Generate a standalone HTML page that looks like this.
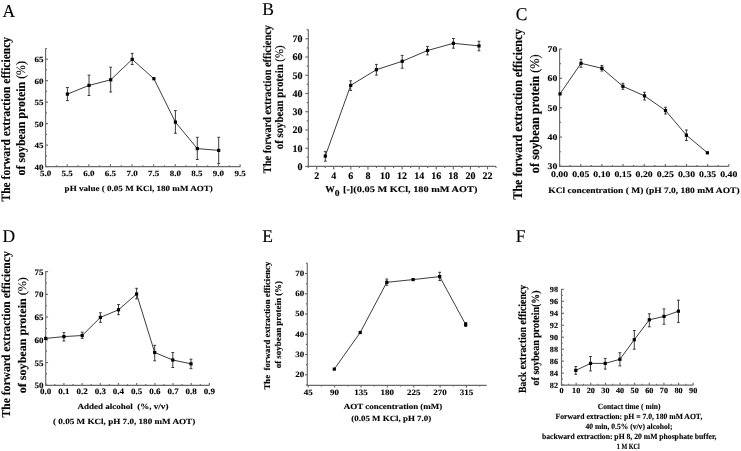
<!DOCTYPE html>
<html><head><meta charset="utf-8"><style>
html,body{margin:0;padding:0;background:#fff;width:741px;height:451px;overflow:hidden}
svg{display:block;filter:grayscale(1) blur(0.3px)}
text{font-family:"Liberation Serif",serif;font-weight:bold;fill:#000;stroke:#000;stroke-width:0.12px;text-rendering:geometricPrecision}
</style></head><body>
<svg width="741" height="451" viewBox="0 0 741 451">
<rect width="741" height="451" fill="#fff"/>
<line x1="45.6" y1="48.3" x2="45.6" y2="167.05" stroke="#6a6a6a" stroke-width="1.15"/>
<line x1="45.15" y1="166.6" x2="240.6" y2="166.6" stroke="#6a6a6a" stroke-width="1.15"/>
<line x1="45.6" y1="166.6" x2="48" y2="166.6" stroke="#6a6a6a" stroke-width="1.15"/>
<line x1="45.6" y1="145.12" x2="48" y2="145.12" stroke="#6a6a6a" stroke-width="1.15"/>
<line x1="45.6" y1="123.64" x2="48" y2="123.64" stroke="#6a6a6a" stroke-width="1.15"/>
<line x1="45.6" y1="102.16" x2="48" y2="102.16" stroke="#6a6a6a" stroke-width="1.15"/>
<line x1="45.6" y1="80.68" x2="48" y2="80.68" stroke="#6a6a6a" stroke-width="1.15"/>
<line x1="45.6" y1="59.2" x2="48" y2="59.2" stroke="#6a6a6a" stroke-width="1.15"/>
<line x1="45.6" y1="155.86" x2="46.9" y2="155.86" stroke="#6a6a6a" stroke-width="1.15"/>
<line x1="45.6" y1="134.38" x2="46.9" y2="134.38" stroke="#6a6a6a" stroke-width="1.15"/>
<line x1="45.6" y1="112.9" x2="46.9" y2="112.9" stroke="#6a6a6a" stroke-width="1.15"/>
<line x1="45.6" y1="91.42" x2="46.9" y2="91.42" stroke="#6a6a6a" stroke-width="1.15"/>
<line x1="45.6" y1="69.94" x2="46.9" y2="69.94" stroke="#6a6a6a" stroke-width="1.15"/>
<line x1="45.6" y1="48.46" x2="46.9" y2="48.46" stroke="#6a6a6a" stroke-width="1.15"/>
<line x1="45.6" y1="166.6" x2="45.6" y2="164.2" stroke="#6a6a6a" stroke-width="1.15"/>
<line x1="67.21" y1="166.6" x2="67.21" y2="164.2" stroke="#6a6a6a" stroke-width="1.15"/>
<line x1="88.82" y1="166.6" x2="88.82" y2="164.2" stroke="#6a6a6a" stroke-width="1.15"/>
<line x1="110.43" y1="166.6" x2="110.43" y2="164.2" stroke="#6a6a6a" stroke-width="1.15"/>
<line x1="132.04" y1="166.6" x2="132.04" y2="164.2" stroke="#6a6a6a" stroke-width="1.15"/>
<line x1="153.65" y1="166.6" x2="153.65" y2="164.2" stroke="#6a6a6a" stroke-width="1.15"/>
<line x1="175.26" y1="166.6" x2="175.26" y2="164.2" stroke="#6a6a6a" stroke-width="1.15"/>
<line x1="196.87" y1="166.6" x2="196.87" y2="164.2" stroke="#6a6a6a" stroke-width="1.15"/>
<line x1="218.48" y1="166.6" x2="218.48" y2="164.2" stroke="#6a6a6a" stroke-width="1.15"/>
<line x1="240.09" y1="166.6" x2="240.09" y2="164.2" stroke="#6a6a6a" stroke-width="1.15"/>
<line x1="56.41" y1="166.6" x2="56.41" y2="165.3" stroke="#6a6a6a" stroke-width="1.15"/>
<line x1="78.02" y1="166.6" x2="78.02" y2="165.3" stroke="#6a6a6a" stroke-width="1.15"/>
<line x1="99.62" y1="166.6" x2="99.62" y2="165.3" stroke="#6a6a6a" stroke-width="1.15"/>
<line x1="121.23" y1="166.6" x2="121.23" y2="165.3" stroke="#6a6a6a" stroke-width="1.15"/>
<line x1="142.84" y1="166.6" x2="142.84" y2="165.3" stroke="#6a6a6a" stroke-width="1.15"/>
<line x1="164.45" y1="166.6" x2="164.45" y2="165.3" stroke="#6a6a6a" stroke-width="1.15"/>
<line x1="186.06" y1="166.6" x2="186.06" y2="165.3" stroke="#6a6a6a" stroke-width="1.15"/>
<line x1="207.67" y1="166.6" x2="207.67" y2="165.3" stroke="#6a6a6a" stroke-width="1.15"/>
<line x1="229.28" y1="166.6" x2="229.28" y2="165.3" stroke="#6a6a6a" stroke-width="1.15"/>
<text transform="translate(43.4,169.5) scale(1,0.89)" font-size="9" text-anchor="end" xml:space="preserve">40</text>
<text transform="translate(43.4,148.02) scale(1,0.89)" font-size="9" text-anchor="end" xml:space="preserve">45</text>
<text transform="translate(43.4,126.54) scale(1,0.89)" font-size="9" text-anchor="end" xml:space="preserve">50</text>
<text transform="translate(43.4,105.06) scale(1,0.89)" font-size="9" text-anchor="end" xml:space="preserve">55</text>
<text transform="translate(43.4,83.58) scale(1,0.89)" font-size="9" text-anchor="end" xml:space="preserve">60</text>
<text transform="translate(43.4,62.1) scale(1,0.89)" font-size="9" text-anchor="end" xml:space="preserve">65</text>
<text transform="translate(45.6,176.2) scale(1,0.89)" font-size="9" text-anchor="middle" xml:space="preserve">5.0</text>
<text transform="translate(67.21,176.2) scale(1,0.89)" font-size="9" text-anchor="middle" xml:space="preserve">5.5</text>
<text transform="translate(88.82,176.2) scale(1,0.89)" font-size="9" text-anchor="middle" xml:space="preserve">6.0</text>
<text transform="translate(110.43,176.2) scale(1,0.89)" font-size="9" text-anchor="middle" xml:space="preserve">6.5</text>
<text transform="translate(132.04,176.2) scale(1,0.89)" font-size="9" text-anchor="middle" xml:space="preserve">7.0</text>
<text transform="translate(153.65,176.2) scale(1,0.89)" font-size="9" text-anchor="middle" xml:space="preserve">7.5</text>
<text transform="translate(175.26,176.2) scale(1,0.89)" font-size="9" text-anchor="middle" xml:space="preserve">8.0</text>
<text transform="translate(196.87,176.2) scale(1,0.89)" font-size="9" text-anchor="middle" xml:space="preserve">8.5</text>
<text transform="translate(218.48,176.2) scale(1,0.89)" font-size="9" text-anchor="middle" xml:space="preserve">9.0</text>
<text transform="translate(240.09,176.2) scale(1,0.89)" font-size="9" text-anchor="middle" xml:space="preserve">9.5</text>
<polyline points="67.4,94.1 89,85.4 110.7,79.8 132.2,59.4 153.9,78.7 175.4,122.1 197.3,148.6 218.7,150.4" fill="none" stroke="#333" stroke-width="0.95"/>
<line x1="67.4" y1="87.5" x2="67.4" y2="100.6" stroke="#333" stroke-width="0.95"/>
<line x1="66" y1="87.5" x2="68.8" y2="87.5" stroke="#333" stroke-width="0.95"/>
<line x1="66" y1="100.6" x2="68.8" y2="100.6" stroke="#333" stroke-width="0.95"/>
<rect x="65.8" y="92.5" width="3.2" height="3.2" fill="#000"/>
<line x1="89" y1="75.1" x2="89" y2="95.5" stroke="#333" stroke-width="0.95"/>
<line x1="87.6" y1="75.1" x2="90.4" y2="75.1" stroke="#333" stroke-width="0.95"/>
<line x1="87.6" y1="95.5" x2="90.4" y2="95.5" stroke="#333" stroke-width="0.95"/>
<rect x="87.4" y="83.8" width="3.2" height="3.2" fill="#000"/>
<line x1="110.7" y1="67.2" x2="110.7" y2="92" stroke="#333" stroke-width="0.95"/>
<line x1="109.3" y1="67.2" x2="112.1" y2="67.2" stroke="#333" stroke-width="0.95"/>
<line x1="109.3" y1="92" x2="112.1" y2="92" stroke="#333" stroke-width="0.95"/>
<rect x="109.1" y="78.2" width="3.2" height="3.2" fill="#000"/>
<line x1="132.2" y1="53.4" x2="132.2" y2="64.5" stroke="#333" stroke-width="0.95"/>
<line x1="130.8" y1="53.4" x2="133.6" y2="53.4" stroke="#333" stroke-width="0.95"/>
<line x1="130.8" y1="64.5" x2="133.6" y2="64.5" stroke="#333" stroke-width="0.95"/>
<rect x="130.6" y="57.8" width="3.2" height="3.2" fill="#000"/>
<rect x="152.3" y="77.1" width="3.2" height="3.2" fill="#000"/>
<line x1="175.4" y1="110.6" x2="175.4" y2="133.3" stroke="#333" stroke-width="0.95"/>
<line x1="174" y1="110.6" x2="176.8" y2="110.6" stroke="#333" stroke-width="0.95"/>
<line x1="174" y1="133.3" x2="176.8" y2="133.3" stroke="#333" stroke-width="0.95"/>
<rect x="173.8" y="120.5" width="3.2" height="3.2" fill="#000"/>
<line x1="197.3" y1="137.3" x2="197.3" y2="159.5" stroke="#333" stroke-width="0.95"/>
<line x1="195.9" y1="137.3" x2="198.7" y2="137.3" stroke="#333" stroke-width="0.95"/>
<line x1="195.9" y1="159.5" x2="198.7" y2="159.5" stroke="#333" stroke-width="0.95"/>
<rect x="195.7" y="147" width="3.2" height="3.2" fill="#000"/>
<line x1="218.7" y1="137.3" x2="218.7" y2="163.4" stroke="#333" stroke-width="0.95"/>
<line x1="217.3" y1="137.3" x2="220.1" y2="137.3" stroke="#333" stroke-width="0.95"/>
<line x1="217.3" y1="163.4" x2="220.1" y2="163.4" stroke="#333" stroke-width="0.95"/>
<rect x="217.1" y="148.8" width="3.2" height="3.2" fill="#000"/>
<line x1="308.3" y1="29.5" x2="308.3" y2="166.85" stroke="#6a6a6a" stroke-width="1.15"/>
<line x1="307.85" y1="166.4" x2="496" y2="166.4" stroke="#6a6a6a" stroke-width="1.15"/>
<line x1="308.3" y1="166.4" x2="305.3" y2="166.4" stroke="#6a6a6a" stroke-width="1.15"/>
<line x1="308.3" y1="148.17" x2="305.3" y2="148.17" stroke="#6a6a6a" stroke-width="1.15"/>
<line x1="308.3" y1="129.94" x2="305.3" y2="129.94" stroke="#6a6a6a" stroke-width="1.15"/>
<line x1="308.3" y1="111.71" x2="305.3" y2="111.71" stroke="#6a6a6a" stroke-width="1.15"/>
<line x1="308.3" y1="93.48" x2="305.3" y2="93.48" stroke="#6a6a6a" stroke-width="1.15"/>
<line x1="308.3" y1="75.25" x2="305.3" y2="75.25" stroke="#6a6a6a" stroke-width="1.15"/>
<line x1="308.3" y1="57.02" x2="305.3" y2="57.02" stroke="#6a6a6a" stroke-width="1.15"/>
<line x1="308.3" y1="38.79" x2="305.3" y2="38.79" stroke="#6a6a6a" stroke-width="1.15"/>
<line x1="308.3" y1="157.28" x2="306.7" y2="157.28" stroke="#6a6a6a" stroke-width="1.15"/>
<line x1="308.3" y1="139.06" x2="306.7" y2="139.06" stroke="#6a6a6a" stroke-width="1.15"/>
<line x1="308.3" y1="120.83" x2="306.7" y2="120.83" stroke="#6a6a6a" stroke-width="1.15"/>
<line x1="308.3" y1="102.59" x2="306.7" y2="102.59" stroke="#6a6a6a" stroke-width="1.15"/>
<line x1="308.3" y1="84.37" x2="306.7" y2="84.37" stroke="#6a6a6a" stroke-width="1.15"/>
<line x1="308.3" y1="66.14" x2="306.7" y2="66.14" stroke="#6a6a6a" stroke-width="1.15"/>
<line x1="308.3" y1="47.91" x2="306.7" y2="47.91" stroke="#6a6a6a" stroke-width="1.15"/>
<line x1="308.3" y1="29.68" x2="306.7" y2="29.68" stroke="#6a6a6a" stroke-width="1.15"/>
<line x1="316.7" y1="166.4" x2="316.7" y2="169.4" stroke="#6a6a6a" stroke-width="1.15"/>
<line x1="333.78" y1="166.4" x2="333.78" y2="169.4" stroke="#6a6a6a" stroke-width="1.15"/>
<line x1="350.86" y1="166.4" x2="350.86" y2="169.4" stroke="#6a6a6a" stroke-width="1.15"/>
<line x1="367.94" y1="166.4" x2="367.94" y2="169.4" stroke="#6a6a6a" stroke-width="1.15"/>
<line x1="385.02" y1="166.4" x2="385.02" y2="169.4" stroke="#6a6a6a" stroke-width="1.15"/>
<line x1="402.1" y1="166.4" x2="402.1" y2="169.4" stroke="#6a6a6a" stroke-width="1.15"/>
<line x1="419.18" y1="166.4" x2="419.18" y2="169.4" stroke="#6a6a6a" stroke-width="1.15"/>
<line x1="436.26" y1="166.4" x2="436.26" y2="169.4" stroke="#6a6a6a" stroke-width="1.15"/>
<line x1="453.34" y1="166.4" x2="453.34" y2="169.4" stroke="#6a6a6a" stroke-width="1.15"/>
<line x1="470.42" y1="166.4" x2="470.42" y2="169.4" stroke="#6a6a6a" stroke-width="1.15"/>
<line x1="487.5" y1="166.4" x2="487.5" y2="169.4" stroke="#6a6a6a" stroke-width="1.15"/>
<line x1="308.16" y1="166.4" x2="308.16" y2="168" stroke="#6a6a6a" stroke-width="1.15"/>
<line x1="325.24" y1="166.4" x2="325.24" y2="168" stroke="#6a6a6a" stroke-width="1.15"/>
<line x1="342.32" y1="166.4" x2="342.32" y2="168" stroke="#6a6a6a" stroke-width="1.15"/>
<line x1="359.4" y1="166.4" x2="359.4" y2="168" stroke="#6a6a6a" stroke-width="1.15"/>
<line x1="376.48" y1="166.4" x2="376.48" y2="168" stroke="#6a6a6a" stroke-width="1.15"/>
<line x1="393.56" y1="166.4" x2="393.56" y2="168" stroke="#6a6a6a" stroke-width="1.15"/>
<line x1="410.64" y1="166.4" x2="410.64" y2="168" stroke="#6a6a6a" stroke-width="1.15"/>
<line x1="427.72" y1="166.4" x2="427.72" y2="168" stroke="#6a6a6a" stroke-width="1.15"/>
<line x1="444.8" y1="166.4" x2="444.8" y2="168" stroke="#6a6a6a" stroke-width="1.15"/>
<line x1="461.88" y1="166.4" x2="461.88" y2="168" stroke="#6a6a6a" stroke-width="1.15"/>
<line x1="478.96" y1="166.4" x2="478.96" y2="168" stroke="#6a6a6a" stroke-width="1.15"/>
<line x1="496.04" y1="166.4" x2="496.04" y2="168" stroke="#6a6a6a" stroke-width="1.15"/>
<text x="302.4" y="169.8" font-size="10" text-anchor="end" xml:space="preserve">0</text>
<text x="302.4" y="151.57" font-size="10" text-anchor="end" xml:space="preserve">10</text>
<text x="302.4" y="133.34" font-size="10" text-anchor="end" xml:space="preserve">20</text>
<text x="302.4" y="115.11" font-size="10" text-anchor="end" xml:space="preserve">30</text>
<text x="302.4" y="96.88" font-size="10" text-anchor="end" xml:space="preserve">40</text>
<text x="302.4" y="78.65" font-size="10" text-anchor="end" xml:space="preserve">50</text>
<text x="302.4" y="60.42" font-size="10" text-anchor="end" xml:space="preserve">60</text>
<text x="302.4" y="42.19" font-size="10" text-anchor="end" xml:space="preserve">70</text>
<text x="316.7" y="178.8" font-size="10" text-anchor="middle" xml:space="preserve">2</text>
<text x="333.78" y="178.8" font-size="10" text-anchor="middle" xml:space="preserve">4</text>
<text x="350.86" y="178.8" font-size="10" text-anchor="middle" xml:space="preserve">6</text>
<text x="367.94" y="178.8" font-size="10" text-anchor="middle" xml:space="preserve">8</text>
<text x="385.02" y="178.8" font-size="10" text-anchor="middle" xml:space="preserve">10</text>
<text x="402.1" y="178.8" font-size="10" text-anchor="middle" xml:space="preserve">12</text>
<text x="419.18" y="178.8" font-size="10" text-anchor="middle" xml:space="preserve">14</text>
<text x="436.26" y="178.8" font-size="10" text-anchor="middle" xml:space="preserve">16</text>
<text x="453.34" y="178.8" font-size="10" text-anchor="middle" xml:space="preserve">18</text>
<text x="470.42" y="178.8" font-size="10" text-anchor="middle" xml:space="preserve">20</text>
<text x="487.5" y="178.8" font-size="10" text-anchor="middle" xml:space="preserve">22</text>
<polyline points="325.3,156.1 350.7,85.4 376.4,69.7 402.2,61.3 427.5,50.5 453.4,43.3 479,45.9" fill="none" stroke="#333" stroke-width="0.95"/>
<line x1="325.3" y1="151.4" x2="325.3" y2="161.2" stroke="#333" stroke-width="0.95"/>
<line x1="323.9" y1="151.4" x2="326.7" y2="151.4" stroke="#333" stroke-width="0.95"/>
<line x1="323.9" y1="161.2" x2="326.7" y2="161.2" stroke="#333" stroke-width="0.95"/>
<rect x="323.7" y="154.5" width="3.2" height="3.2" fill="#000"/>
<line x1="350.7" y1="80.8" x2="350.7" y2="90.5" stroke="#333" stroke-width="0.95"/>
<line x1="349.3" y1="80.8" x2="352.1" y2="80.8" stroke="#333" stroke-width="0.95"/>
<line x1="349.3" y1="90.5" x2="352.1" y2="90.5" stroke="#333" stroke-width="0.95"/>
<rect x="349.1" y="83.8" width="3.2" height="3.2" fill="#000"/>
<line x1="376.4" y1="64.4" x2="376.4" y2="75.1" stroke="#333" stroke-width="0.95"/>
<line x1="375" y1="64.4" x2="377.8" y2="64.4" stroke="#333" stroke-width="0.95"/>
<line x1="375" y1="75.1" x2="377.8" y2="75.1" stroke="#333" stroke-width="0.95"/>
<rect x="374.8" y="68.1" width="3.2" height="3.2" fill="#000"/>
<line x1="402.2" y1="55.4" x2="402.2" y2="68.2" stroke="#333" stroke-width="0.95"/>
<line x1="400.8" y1="55.4" x2="403.6" y2="55.4" stroke="#333" stroke-width="0.95"/>
<line x1="400.8" y1="68.2" x2="403.6" y2="68.2" stroke="#333" stroke-width="0.95"/>
<rect x="400.6" y="59.7" width="3.2" height="3.2" fill="#000"/>
<line x1="427.5" y1="46.4" x2="427.5" y2="54.9" stroke="#333" stroke-width="0.95"/>
<line x1="426.1" y1="46.4" x2="428.9" y2="46.4" stroke="#333" stroke-width="0.95"/>
<line x1="426.1" y1="54.9" x2="428.9" y2="54.9" stroke="#333" stroke-width="0.95"/>
<rect x="425.9" y="48.9" width="3.2" height="3.2" fill="#000"/>
<line x1="453.4" y1="38.5" x2="453.4" y2="48.2" stroke="#333" stroke-width="0.95"/>
<line x1="452" y1="38.5" x2="454.8" y2="38.5" stroke="#333" stroke-width="0.95"/>
<line x1="452" y1="48.2" x2="454.8" y2="48.2" stroke="#333" stroke-width="0.95"/>
<rect x="451.8" y="41.7" width="3.2" height="3.2" fill="#000"/>
<line x1="479" y1="41.3" x2="479" y2="50.8" stroke="#333" stroke-width="0.95"/>
<line x1="477.6" y1="41.3" x2="480.4" y2="41.3" stroke="#333" stroke-width="0.95"/>
<line x1="477.6" y1="50.8" x2="480.4" y2="50.8" stroke="#333" stroke-width="0.95"/>
<rect x="477.4" y="44.3" width="3.2" height="3.2" fill="#000"/>
<line x1="559.6" y1="48.7" x2="559.6" y2="166.85" stroke="#6a6a6a" stroke-width="1.15"/>
<line x1="559.15" y1="166.4" x2="728.8" y2="166.4" stroke="#6a6a6a" stroke-width="1.15"/>
<line x1="559.6" y1="166.4" x2="562" y2="166.4" stroke="#6a6a6a" stroke-width="1.15"/>
<line x1="559.6" y1="137.05" x2="562" y2="137.05" stroke="#6a6a6a" stroke-width="1.15"/>
<line x1="559.6" y1="107.7" x2="562" y2="107.7" stroke="#6a6a6a" stroke-width="1.15"/>
<line x1="559.6" y1="78.35" x2="562" y2="78.35" stroke="#6a6a6a" stroke-width="1.15"/>
<line x1="559.6" y1="49" x2="562" y2="49" stroke="#6a6a6a" stroke-width="1.15"/>
<line x1="559.6" y1="151.72" x2="560.9" y2="151.72" stroke="#6a6a6a" stroke-width="1.15"/>
<line x1="559.6" y1="122.38" x2="560.9" y2="122.38" stroke="#6a6a6a" stroke-width="1.15"/>
<line x1="559.6" y1="93.03" x2="560.9" y2="93.03" stroke="#6a6a6a" stroke-width="1.15"/>
<line x1="559.6" y1="63.67" x2="560.9" y2="63.67" stroke="#6a6a6a" stroke-width="1.15"/>
<line x1="559.6" y1="166.4" x2="559.6" y2="164" stroke="#6a6a6a" stroke-width="1.15"/>
<line x1="580.75" y1="166.4" x2="580.75" y2="164" stroke="#6a6a6a" stroke-width="1.15"/>
<line x1="601.9" y1="166.4" x2="601.9" y2="164" stroke="#6a6a6a" stroke-width="1.15"/>
<line x1="623.05" y1="166.4" x2="623.05" y2="164" stroke="#6a6a6a" stroke-width="1.15"/>
<line x1="644.2" y1="166.4" x2="644.2" y2="164" stroke="#6a6a6a" stroke-width="1.15"/>
<line x1="665.35" y1="166.4" x2="665.35" y2="164" stroke="#6a6a6a" stroke-width="1.15"/>
<line x1="686.5" y1="166.4" x2="686.5" y2="164" stroke="#6a6a6a" stroke-width="1.15"/>
<line x1="707.65" y1="166.4" x2="707.65" y2="164" stroke="#6a6a6a" stroke-width="1.15"/>
<line x1="728.8" y1="166.4" x2="728.8" y2="164" stroke="#6a6a6a" stroke-width="1.15"/>
<line x1="570.18" y1="166.4" x2="570.18" y2="165.1" stroke="#6a6a6a" stroke-width="1.15"/>
<line x1="591.33" y1="166.4" x2="591.33" y2="165.1" stroke="#6a6a6a" stroke-width="1.15"/>
<line x1="612.48" y1="166.4" x2="612.48" y2="165.1" stroke="#6a6a6a" stroke-width="1.15"/>
<line x1="633.62" y1="166.4" x2="633.62" y2="165.1" stroke="#6a6a6a" stroke-width="1.15"/>
<line x1="654.77" y1="166.4" x2="654.77" y2="165.1" stroke="#6a6a6a" stroke-width="1.15"/>
<line x1="675.93" y1="166.4" x2="675.93" y2="165.1" stroke="#6a6a6a" stroke-width="1.15"/>
<line x1="697.08" y1="166.4" x2="697.08" y2="165.1" stroke="#6a6a6a" stroke-width="1.15"/>
<line x1="718.23" y1="166.4" x2="718.23" y2="165.1" stroke="#6a6a6a" stroke-width="1.15"/>
<text transform="translate(557.4,169.4) scale(1,0.89)" font-size="9.8" text-anchor="end" xml:space="preserve">30</text>
<text transform="translate(557.4,140.05) scale(1,0.89)" font-size="9.8" text-anchor="end" xml:space="preserve">40</text>
<text transform="translate(557.4,110.7) scale(1,0.89)" font-size="9.8" text-anchor="end" xml:space="preserve">50</text>
<text transform="translate(557.4,81.35) scale(1,0.89)" font-size="9.8" text-anchor="end" xml:space="preserve">60</text>
<text transform="translate(557.4,52) scale(1,0.89)" font-size="9.8" text-anchor="end" xml:space="preserve">70</text>
<text transform="translate(559.6,176.6) scale(1,0.89)" font-size="9.8" text-anchor="middle" xml:space="preserve">0.00</text>
<text transform="translate(580.75,176.6) scale(1,0.89)" font-size="9.8" text-anchor="middle" xml:space="preserve">0.05</text>
<text transform="translate(601.9,176.6) scale(1,0.89)" font-size="9.8" text-anchor="middle" xml:space="preserve">0.10</text>
<text transform="translate(623.05,176.6) scale(1,0.89)" font-size="9.8" text-anchor="middle" xml:space="preserve">0.15</text>
<text transform="translate(644.2,176.6) scale(1,0.89)" font-size="9.8" text-anchor="middle" xml:space="preserve">0.20</text>
<text transform="translate(665.35,176.6) scale(1,0.89)" font-size="9.8" text-anchor="middle" xml:space="preserve">0.25</text>
<text transform="translate(686.5,176.6) scale(1,0.89)" font-size="9.8" text-anchor="middle" xml:space="preserve">0.30</text>
<text transform="translate(707.65,176.6) scale(1,0.89)" font-size="9.8" text-anchor="middle" xml:space="preserve">0.35</text>
<text transform="translate(728.8,176.6) scale(1,0.89)" font-size="9.8" text-anchor="middle" xml:space="preserve">0.40</text>
<polyline points="560,93.9 581,63.3 601.9,68.3 622.9,86.3 644.5,95.9 665.5,110.5 686.4,135.2 707.4,152.8" fill="none" stroke="#333" stroke-width="0.95"/>
<rect x="558.4" y="92.3" width="3.2" height="3.2" fill="#000"/>
<line x1="581" y1="59.3" x2="581" y2="67.3" stroke="#333" stroke-width="0.95"/>
<line x1="579.6" y1="59.3" x2="582.4" y2="59.3" stroke="#333" stroke-width="0.95"/>
<line x1="579.6" y1="67.3" x2="582.4" y2="67.3" stroke="#333" stroke-width="0.95"/>
<rect x="579.4" y="61.7" width="3.2" height="3.2" fill="#000"/>
<line x1="601.9" y1="65.6" x2="601.9" y2="71" stroke="#333" stroke-width="0.95"/>
<line x1="600.5" y1="65.6" x2="603.3" y2="65.6" stroke="#333" stroke-width="0.95"/>
<line x1="600.5" y1="71" x2="603.3" y2="71" stroke="#333" stroke-width="0.95"/>
<rect x="600.3" y="66.7" width="3.2" height="3.2" fill="#000"/>
<line x1="622.9" y1="83.3" x2="622.9" y2="89.3" stroke="#333" stroke-width="0.95"/>
<line x1="621.5" y1="83.3" x2="624.3" y2="83.3" stroke="#333" stroke-width="0.95"/>
<line x1="621.5" y1="89.3" x2="624.3" y2="89.3" stroke="#333" stroke-width="0.95"/>
<rect x="621.3" y="84.7" width="3.2" height="3.2" fill="#000"/>
<line x1="644.5" y1="92.3" x2="644.5" y2="100" stroke="#333" stroke-width="0.95"/>
<line x1="643.1" y1="92.3" x2="645.9" y2="92.3" stroke="#333" stroke-width="0.95"/>
<line x1="643.1" y1="100" x2="645.9" y2="100" stroke="#333" stroke-width="0.95"/>
<rect x="642.9" y="94.3" width="3.2" height="3.2" fill="#000"/>
<line x1="665.5" y1="107.3" x2="665.5" y2="114" stroke="#333" stroke-width="0.95"/>
<line x1="664.1" y1="107.3" x2="666.9" y2="107.3" stroke="#333" stroke-width="0.95"/>
<line x1="664.1" y1="114" x2="666.9" y2="114" stroke="#333" stroke-width="0.95"/>
<rect x="663.9" y="108.9" width="3.2" height="3.2" fill="#000"/>
<line x1="686.4" y1="130" x2="686.4" y2="140.5" stroke="#333" stroke-width="0.95"/>
<line x1="685" y1="130" x2="687.8" y2="130" stroke="#333" stroke-width="0.95"/>
<line x1="685" y1="140.5" x2="687.8" y2="140.5" stroke="#333" stroke-width="0.95"/>
<rect x="684.8" y="133.6" width="3.2" height="3.2" fill="#000"/>
<rect x="705.8" y="151.2" width="3.2" height="3.2" fill="#000"/>
<line x1="45.7" y1="271.1" x2="45.7" y2="385.75" stroke="#6a6a6a" stroke-width="1.15"/>
<line x1="45.25" y1="385.3" x2="209.4" y2="385.3" stroke="#6a6a6a" stroke-width="1.15"/>
<line x1="45.7" y1="385.3" x2="48.1" y2="385.3" stroke="#6a6a6a" stroke-width="1.15"/>
<line x1="45.7" y1="362.56" x2="48.1" y2="362.56" stroke="#6a6a6a" stroke-width="1.15"/>
<line x1="45.7" y1="339.82" x2="48.1" y2="339.82" stroke="#6a6a6a" stroke-width="1.15"/>
<line x1="45.7" y1="317.08" x2="48.1" y2="317.08" stroke="#6a6a6a" stroke-width="1.15"/>
<line x1="45.7" y1="294.34" x2="48.1" y2="294.34" stroke="#6a6a6a" stroke-width="1.15"/>
<line x1="45.7" y1="271.6" x2="48.1" y2="271.6" stroke="#6a6a6a" stroke-width="1.15"/>
<line x1="45.7" y1="373.93" x2="47" y2="373.93" stroke="#6a6a6a" stroke-width="1.15"/>
<line x1="45.7" y1="351.19" x2="47" y2="351.19" stroke="#6a6a6a" stroke-width="1.15"/>
<line x1="45.7" y1="328.45" x2="47" y2="328.45" stroke="#6a6a6a" stroke-width="1.15"/>
<line x1="45.7" y1="305.71" x2="47" y2="305.71" stroke="#6a6a6a" stroke-width="1.15"/>
<line x1="45.7" y1="282.97" x2="47" y2="282.97" stroke="#6a6a6a" stroke-width="1.15"/>
<line x1="45.7" y1="385.3" x2="45.7" y2="382.9" stroke="#6a6a6a" stroke-width="1.15"/>
<line x1="63.89" y1="385.3" x2="63.89" y2="382.9" stroke="#6a6a6a" stroke-width="1.15"/>
<line x1="82.08" y1="385.3" x2="82.08" y2="382.9" stroke="#6a6a6a" stroke-width="1.15"/>
<line x1="100.27" y1="385.3" x2="100.27" y2="382.9" stroke="#6a6a6a" stroke-width="1.15"/>
<line x1="118.46" y1="385.3" x2="118.46" y2="382.9" stroke="#6a6a6a" stroke-width="1.15"/>
<line x1="136.65" y1="385.3" x2="136.65" y2="382.9" stroke="#6a6a6a" stroke-width="1.15"/>
<line x1="154.84" y1="385.3" x2="154.84" y2="382.9" stroke="#6a6a6a" stroke-width="1.15"/>
<line x1="173.03" y1="385.3" x2="173.03" y2="382.9" stroke="#6a6a6a" stroke-width="1.15"/>
<line x1="191.22" y1="385.3" x2="191.22" y2="382.9" stroke="#6a6a6a" stroke-width="1.15"/>
<line x1="209.41" y1="385.3" x2="209.41" y2="382.9" stroke="#6a6a6a" stroke-width="1.15"/>
<line x1="54.8" y1="385.3" x2="54.8" y2="384" stroke="#6a6a6a" stroke-width="1.15"/>
<line x1="72.98" y1="385.3" x2="72.98" y2="384" stroke="#6a6a6a" stroke-width="1.15"/>
<line x1="91.18" y1="385.3" x2="91.18" y2="384" stroke="#6a6a6a" stroke-width="1.15"/>
<line x1="109.37" y1="385.3" x2="109.37" y2="384" stroke="#6a6a6a" stroke-width="1.15"/>
<line x1="127.56" y1="385.3" x2="127.56" y2="384" stroke="#6a6a6a" stroke-width="1.15"/>
<line x1="145.75" y1="385.3" x2="145.75" y2="384" stroke="#6a6a6a" stroke-width="1.15"/>
<line x1="163.94" y1="385.3" x2="163.94" y2="384" stroke="#6a6a6a" stroke-width="1.15"/>
<line x1="182.12" y1="385.3" x2="182.12" y2="384" stroke="#6a6a6a" stroke-width="1.15"/>
<line x1="200.31" y1="385.3" x2="200.31" y2="384" stroke="#6a6a6a" stroke-width="1.15"/>
<text transform="translate(43.4,388.3) scale(1,0.93)" font-size="9" text-anchor="end" xml:space="preserve">50</text>
<text transform="translate(43.4,365.56) scale(1,0.93)" font-size="9" text-anchor="end" xml:space="preserve">55</text>
<text transform="translate(43.4,342.82) scale(1,0.93)" font-size="9" text-anchor="end" xml:space="preserve">60</text>
<text transform="translate(43.4,320.08) scale(1,0.93)" font-size="9" text-anchor="end" xml:space="preserve">65</text>
<text transform="translate(43.4,297.34) scale(1,0.93)" font-size="9" text-anchor="end" xml:space="preserve">70</text>
<text transform="translate(43.4,274.6) scale(1,0.93)" font-size="9" text-anchor="end" xml:space="preserve">75</text>
<text transform="translate(45.7,394.4) scale(1,0.93)" font-size="9" text-anchor="middle" xml:space="preserve">0.0</text>
<text transform="translate(63.89,394.4) scale(1,0.93)" font-size="9" text-anchor="middle" xml:space="preserve">0.1</text>
<text transform="translate(82.08,394.4) scale(1,0.93)" font-size="9" text-anchor="middle" xml:space="preserve">0.2</text>
<text transform="translate(100.27,394.4) scale(1,0.93)" font-size="9" text-anchor="middle" xml:space="preserve">0.3</text>
<text transform="translate(118.46,394.4) scale(1,0.93)" font-size="9" text-anchor="middle" xml:space="preserve">0.4</text>
<text transform="translate(136.65,394.4) scale(1,0.93)" font-size="9" text-anchor="middle" xml:space="preserve">0.5</text>
<text transform="translate(154.84,394.4) scale(1,0.93)" font-size="9" text-anchor="middle" xml:space="preserve">0.6</text>
<text transform="translate(173.03,394.4) scale(1,0.93)" font-size="9" text-anchor="middle" xml:space="preserve">0.7</text>
<text transform="translate(191.22,394.4) scale(1,0.93)" font-size="9" text-anchor="middle" xml:space="preserve">0.8</text>
<text transform="translate(209.41,394.4) scale(1,0.93)" font-size="9" text-anchor="middle" xml:space="preserve">0.9</text>
<polyline points="45.7,338.4 63.9,336.6 82.2,335.5 100.4,317.4 118.5,309.8 136.6,294 154.7,352.5 172.8,360 191,363.8" fill="none" stroke="#333" stroke-width="0.95"/>
<rect x="44.1" y="336.8" width="3.2" height="3.2" fill="#000"/>
<line x1="63.9" y1="332.6" x2="63.9" y2="341" stroke="#333" stroke-width="0.95"/>
<line x1="62.5" y1="332.6" x2="65.3" y2="332.6" stroke="#333" stroke-width="0.95"/>
<line x1="62.5" y1="341" x2="65.3" y2="341" stroke="#333" stroke-width="0.95"/>
<rect x="62.3" y="335" width="3.2" height="3.2" fill="#000"/>
<line x1="82.2" y1="332.2" x2="82.2" y2="338.4" stroke="#333" stroke-width="0.95"/>
<line x1="80.8" y1="332.2" x2="83.6" y2="332.2" stroke="#333" stroke-width="0.95"/>
<line x1="80.8" y1="338.4" x2="83.6" y2="338.4" stroke="#333" stroke-width="0.95"/>
<rect x="80.6" y="333.9" width="3.2" height="3.2" fill="#000"/>
<line x1="100.4" y1="312.8" x2="100.4" y2="322.3" stroke="#333" stroke-width="0.95"/>
<line x1="99" y1="312.8" x2="101.8" y2="312.8" stroke="#333" stroke-width="0.95"/>
<line x1="99" y1="322.3" x2="101.8" y2="322.3" stroke="#333" stroke-width="0.95"/>
<rect x="98.8" y="315.8" width="3.2" height="3.2" fill="#000"/>
<line x1="118.5" y1="304.5" x2="118.5" y2="314.7" stroke="#333" stroke-width="0.95"/>
<line x1="117.1" y1="304.5" x2="119.9" y2="304.5" stroke="#333" stroke-width="0.95"/>
<line x1="117.1" y1="314.7" x2="119.9" y2="314.7" stroke="#333" stroke-width="0.95"/>
<rect x="116.9" y="308.2" width="3.2" height="3.2" fill="#000"/>
<line x1="136.6" y1="288.3" x2="136.6" y2="298.9" stroke="#333" stroke-width="0.95"/>
<line x1="135.2" y1="288.3" x2="138" y2="288.3" stroke="#333" stroke-width="0.95"/>
<line x1="135.2" y1="298.9" x2="138" y2="298.9" stroke="#333" stroke-width="0.95"/>
<rect x="135" y="292.4" width="3.2" height="3.2" fill="#000"/>
<line x1="154.7" y1="345.3" x2="154.7" y2="360.8" stroke="#333" stroke-width="0.95"/>
<line x1="153.3" y1="345.3" x2="156.1" y2="345.3" stroke="#333" stroke-width="0.95"/>
<line x1="153.3" y1="360.8" x2="156.1" y2="360.8" stroke="#333" stroke-width="0.95"/>
<rect x="153.1" y="350.9" width="3.2" height="3.2" fill="#000"/>
<line x1="172.8" y1="352.5" x2="172.8" y2="367.5" stroke="#333" stroke-width="0.95"/>
<line x1="171.4" y1="352.5" x2="174.2" y2="352.5" stroke="#333" stroke-width="0.95"/>
<line x1="171.4" y1="367.5" x2="174.2" y2="367.5" stroke="#333" stroke-width="0.95"/>
<rect x="171.2" y="358.4" width="3.2" height="3.2" fill="#000"/>
<line x1="191" y1="359.2" x2="191" y2="368.7" stroke="#333" stroke-width="0.95"/>
<line x1="189.6" y1="359.2" x2="192.4" y2="359.2" stroke="#333" stroke-width="0.95"/>
<line x1="189.6" y1="368.7" x2="192.4" y2="368.7" stroke="#333" stroke-width="0.95"/>
<rect x="189.4" y="362.2" width="3.2" height="3.2" fill="#000"/>
<line x1="307.3" y1="263.3" x2="307.3" y2="385.75" stroke="#6a6a6a" stroke-width="1.15"/>
<line x1="306.85" y1="385.3" x2="486.7" y2="385.3" stroke="#6a6a6a" stroke-width="1.15"/>
<line x1="307.3" y1="374.8" x2="305" y2="374.8" stroke="#6a6a6a" stroke-width="1.15"/>
<line x1="307.3" y1="354.54" x2="305" y2="354.54" stroke="#6a6a6a" stroke-width="1.15"/>
<line x1="307.3" y1="334.28" x2="305" y2="334.28" stroke="#6a6a6a" stroke-width="1.15"/>
<line x1="307.3" y1="314.02" x2="305" y2="314.02" stroke="#6a6a6a" stroke-width="1.15"/>
<line x1="307.3" y1="293.76" x2="305" y2="293.76" stroke="#6a6a6a" stroke-width="1.15"/>
<line x1="307.3" y1="273.5" x2="305" y2="273.5" stroke="#6a6a6a" stroke-width="1.15"/>
<line x1="307.3" y1="384.93" x2="306" y2="384.93" stroke="#6a6a6a" stroke-width="1.15"/>
<line x1="307.3" y1="364.67" x2="306" y2="364.67" stroke="#6a6a6a" stroke-width="1.15"/>
<line x1="307.3" y1="344.41" x2="306" y2="344.41" stroke="#6a6a6a" stroke-width="1.15"/>
<line x1="307.3" y1="324.15" x2="306" y2="324.15" stroke="#6a6a6a" stroke-width="1.15"/>
<line x1="307.3" y1="303.89" x2="306" y2="303.89" stroke="#6a6a6a" stroke-width="1.15"/>
<line x1="307.3" y1="283.63" x2="306" y2="283.63" stroke="#6a6a6a" stroke-width="1.15"/>
<line x1="307.3" y1="263.37" x2="306" y2="263.37" stroke="#6a6a6a" stroke-width="1.15"/>
<line x1="308.22" y1="385.3" x2="308.22" y2="387.6" stroke="#6a6a6a" stroke-width="1.15"/>
<line x1="334.6" y1="385.3" x2="334.6" y2="387.6" stroke="#6a6a6a" stroke-width="1.15"/>
<line x1="360.98" y1="385.3" x2="360.98" y2="387.6" stroke="#6a6a6a" stroke-width="1.15"/>
<line x1="387.36" y1="385.3" x2="387.36" y2="387.6" stroke="#6a6a6a" stroke-width="1.15"/>
<line x1="413.74" y1="385.3" x2="413.74" y2="387.6" stroke="#6a6a6a" stroke-width="1.15"/>
<line x1="440.12" y1="385.3" x2="440.12" y2="387.6" stroke="#6a6a6a" stroke-width="1.15"/>
<line x1="466.5" y1="385.3" x2="466.5" y2="387.6" stroke="#6a6a6a" stroke-width="1.15"/>
<line x1="321.41" y1="385.3" x2="321.41" y2="386.6" stroke="#6a6a6a" stroke-width="1.15"/>
<line x1="347.79" y1="385.3" x2="347.79" y2="386.6" stroke="#6a6a6a" stroke-width="1.15"/>
<line x1="374.17" y1="385.3" x2="374.17" y2="386.6" stroke="#6a6a6a" stroke-width="1.15"/>
<line x1="400.55" y1="385.3" x2="400.55" y2="386.6" stroke="#6a6a6a" stroke-width="1.15"/>
<line x1="426.93" y1="385.3" x2="426.93" y2="386.6" stroke="#6a6a6a" stroke-width="1.15"/>
<line x1="453.31" y1="385.3" x2="453.31" y2="386.6" stroke="#6a6a6a" stroke-width="1.15"/>
<line x1="479.68" y1="385.3" x2="479.68" y2="386.6" stroke="#6a6a6a" stroke-width="1.15"/>
<text transform="translate(304.3,377.2) scale(1,0.9)" font-size="9" text-anchor="end" xml:space="preserve">20</text>
<text transform="translate(304.3,356.94) scale(1,0.9)" font-size="9" text-anchor="end" xml:space="preserve">30</text>
<text transform="translate(304.3,336.68) scale(1,0.9)" font-size="9" text-anchor="end" xml:space="preserve">40</text>
<text transform="translate(304.3,316.42) scale(1,0.9)" font-size="9" text-anchor="end" xml:space="preserve">50</text>
<text transform="translate(304.3,296.16) scale(1,0.9)" font-size="9" text-anchor="end" xml:space="preserve">60</text>
<text transform="translate(304.3,275.9) scale(1,0.9)" font-size="9" text-anchor="end" xml:space="preserve">70</text>
<text transform="translate(308.22,395.2) scale(1,0.9)" font-size="9" text-anchor="middle" xml:space="preserve">45</text>
<text transform="translate(334.6,395.2) scale(1,0.9)" font-size="9" text-anchor="middle" xml:space="preserve">90</text>
<text transform="translate(360.98,395.2) scale(1,0.9)" font-size="9" text-anchor="middle" xml:space="preserve">135</text>
<text transform="translate(387.36,395.2) scale(1,0.9)" font-size="9" text-anchor="middle" xml:space="preserve">180</text>
<text transform="translate(413.74,395.2) scale(1,0.9)" font-size="9" text-anchor="middle" xml:space="preserve">225</text>
<text transform="translate(440.12,395.2) scale(1,0.9)" font-size="9" text-anchor="middle" xml:space="preserve">270</text>
<text transform="translate(466.5,395.2) scale(1,0.9)" font-size="9" text-anchor="middle" xml:space="preserve">315</text>
<polyline points="334.3,369.1 360.2,332.5 386.8,282.3 413.1,279.6 439.7,276.6 465.7,324.5" fill="none" stroke="#333" stroke-width="0.95"/>
<rect x="332.7" y="367.5" width="3.2" height="3.2" fill="#000"/>
<rect x="358.6" y="330.9" width="3.2" height="3.2" fill="#000"/>
<line x1="386.8" y1="279" x2="386.8" y2="285.3" stroke="#333" stroke-width="0.95"/>
<line x1="385.4" y1="279" x2="388.2" y2="279" stroke="#333" stroke-width="0.95"/>
<line x1="385.4" y1="285.3" x2="388.2" y2="285.3" stroke="#333" stroke-width="0.95"/>
<rect x="385.2" y="280.7" width="3.2" height="3.2" fill="#000"/>
<rect x="411.5" y="278" width="3.2" height="3.2" fill="#000"/>
<line x1="439.7" y1="272.3" x2="439.7" y2="280.6" stroke="#333" stroke-width="0.95"/>
<line x1="438.3" y1="272.3" x2="441.1" y2="272.3" stroke="#333" stroke-width="0.95"/>
<line x1="438.3" y1="280.6" x2="441.1" y2="280.6" stroke="#333" stroke-width="0.95"/>
<rect x="438.1" y="275" width="3.2" height="3.2" fill="#000"/>
<line x1="465.7" y1="322.5" x2="465.7" y2="326.5" stroke="#333" stroke-width="0.95"/>
<line x1="464.3" y1="322.5" x2="467.1" y2="322.5" stroke="#333" stroke-width="0.95"/>
<line x1="464.3" y1="326.5" x2="467.1" y2="326.5" stroke="#333" stroke-width="0.95"/>
<rect x="464.1" y="322.9" width="3.2" height="3.2" fill="#000"/>
<line x1="561.5" y1="288.9" x2="561.5" y2="385.55" stroke="#6a6a6a" stroke-width="1.15"/>
<line x1="561.05" y1="385.1" x2="693.3" y2="385.1" stroke="#6a6a6a" stroke-width="1.15"/>
<line x1="561.5" y1="385.1" x2="563.9" y2="385.1" stroke="#6a6a6a" stroke-width="1.15"/>
<line x1="561.5" y1="373.13" x2="563.9" y2="373.13" stroke="#6a6a6a" stroke-width="1.15"/>
<line x1="561.5" y1="361.16" x2="563.9" y2="361.16" stroke="#6a6a6a" stroke-width="1.15"/>
<line x1="561.5" y1="349.19" x2="563.9" y2="349.19" stroke="#6a6a6a" stroke-width="1.15"/>
<line x1="561.5" y1="337.22" x2="563.9" y2="337.22" stroke="#6a6a6a" stroke-width="1.15"/>
<line x1="561.5" y1="325.25" x2="563.9" y2="325.25" stroke="#6a6a6a" stroke-width="1.15"/>
<line x1="561.5" y1="313.28" x2="563.9" y2="313.28" stroke="#6a6a6a" stroke-width="1.15"/>
<line x1="561.5" y1="301.31" x2="563.9" y2="301.31" stroke="#6a6a6a" stroke-width="1.15"/>
<line x1="561.5" y1="289.34" x2="563.9" y2="289.34" stroke="#6a6a6a" stroke-width="1.15"/>
<line x1="561.5" y1="379.12" x2="562.8" y2="379.12" stroke="#6a6a6a" stroke-width="1.15"/>
<line x1="561.5" y1="367.15" x2="562.8" y2="367.15" stroke="#6a6a6a" stroke-width="1.15"/>
<line x1="561.5" y1="355.18" x2="562.8" y2="355.18" stroke="#6a6a6a" stroke-width="1.15"/>
<line x1="561.5" y1="343.21" x2="562.8" y2="343.21" stroke="#6a6a6a" stroke-width="1.15"/>
<line x1="561.5" y1="331.24" x2="562.8" y2="331.24" stroke="#6a6a6a" stroke-width="1.15"/>
<line x1="561.5" y1="319.26" x2="562.8" y2="319.26" stroke="#6a6a6a" stroke-width="1.15"/>
<line x1="561.5" y1="307.3" x2="562.8" y2="307.3" stroke="#6a6a6a" stroke-width="1.15"/>
<line x1="561.5" y1="295.33" x2="562.8" y2="295.33" stroke="#6a6a6a" stroke-width="1.15"/>
<line x1="561.5" y1="385.1" x2="561.5" y2="382.7" stroke="#6a6a6a" stroke-width="1.15"/>
<line x1="576.13" y1="385.1" x2="576.13" y2="382.7" stroke="#6a6a6a" stroke-width="1.15"/>
<line x1="590.76" y1="385.1" x2="590.76" y2="382.7" stroke="#6a6a6a" stroke-width="1.15"/>
<line x1="605.39" y1="385.1" x2="605.39" y2="382.7" stroke="#6a6a6a" stroke-width="1.15"/>
<line x1="620.02" y1="385.1" x2="620.02" y2="382.7" stroke="#6a6a6a" stroke-width="1.15"/>
<line x1="634.65" y1="385.1" x2="634.65" y2="382.7" stroke="#6a6a6a" stroke-width="1.15"/>
<line x1="649.28" y1="385.1" x2="649.28" y2="382.7" stroke="#6a6a6a" stroke-width="1.15"/>
<line x1="663.91" y1="385.1" x2="663.91" y2="382.7" stroke="#6a6a6a" stroke-width="1.15"/>
<line x1="678.54" y1="385.1" x2="678.54" y2="382.7" stroke="#6a6a6a" stroke-width="1.15"/>
<line x1="693.17" y1="385.1" x2="693.17" y2="382.7" stroke="#6a6a6a" stroke-width="1.15"/>
<line x1="568.82" y1="385.1" x2="568.82" y2="383.8" stroke="#6a6a6a" stroke-width="1.15"/>
<line x1="583.45" y1="385.1" x2="583.45" y2="383.8" stroke="#6a6a6a" stroke-width="1.15"/>
<line x1="598.08" y1="385.1" x2="598.08" y2="383.8" stroke="#6a6a6a" stroke-width="1.15"/>
<line x1="612.71" y1="385.1" x2="612.71" y2="383.8" stroke="#6a6a6a" stroke-width="1.15"/>
<line x1="627.34" y1="385.1" x2="627.34" y2="383.8" stroke="#6a6a6a" stroke-width="1.15"/>
<line x1="641.97" y1="385.1" x2="641.97" y2="383.8" stroke="#6a6a6a" stroke-width="1.15"/>
<line x1="656.6" y1="385.1" x2="656.6" y2="383.8" stroke="#6a6a6a" stroke-width="1.15"/>
<line x1="671.23" y1="385.1" x2="671.23" y2="383.8" stroke="#6a6a6a" stroke-width="1.15"/>
<line x1="685.86" y1="385.1" x2="685.86" y2="383.8" stroke="#6a6a6a" stroke-width="1.15"/>
<text transform="translate(558,387.7) scale(1,0.97)" font-size="8.2" text-anchor="end" xml:space="preserve">82</text>
<text transform="translate(558,375.73) scale(1,0.97)" font-size="8.2" text-anchor="end" xml:space="preserve">84</text>
<text transform="translate(558,363.76) scale(1,0.97)" font-size="8.2" text-anchor="end" xml:space="preserve">86</text>
<text transform="translate(558,351.79) scale(1,0.97)" font-size="8.2" text-anchor="end" xml:space="preserve">88</text>
<text transform="translate(558,339.82) scale(1,0.97)" font-size="8.2" text-anchor="end" xml:space="preserve">90</text>
<text transform="translate(558,327.85) scale(1,0.97)" font-size="8.2" text-anchor="end" xml:space="preserve">92</text>
<text transform="translate(558,315.88) scale(1,0.97)" font-size="8.2" text-anchor="end" xml:space="preserve">94</text>
<text transform="translate(558,303.91) scale(1,0.97)" font-size="8.2" text-anchor="end" xml:space="preserve">96</text>
<text transform="translate(558,291.94) scale(1,0.97)" font-size="8.2" text-anchor="end" xml:space="preserve">98</text>
<text transform="translate(561.5,393.2) scale(1,0.97)" font-size="8.2" text-anchor="middle" xml:space="preserve">0</text>
<text transform="translate(576.13,393.2) scale(1,0.97)" font-size="8.2" text-anchor="middle" xml:space="preserve">10</text>
<text transform="translate(590.76,393.2) scale(1,0.97)" font-size="8.2" text-anchor="middle" xml:space="preserve">20</text>
<text transform="translate(605.39,393.2) scale(1,0.97)" font-size="8.2" text-anchor="middle" xml:space="preserve">30</text>
<text transform="translate(620.02,393.2) scale(1,0.97)" font-size="8.2" text-anchor="middle" xml:space="preserve">40</text>
<text transform="translate(634.65,393.2) scale(1,0.97)" font-size="8.2" text-anchor="middle" xml:space="preserve">50</text>
<text transform="translate(649.28,393.2) scale(1,0.97)" font-size="8.2" text-anchor="middle" xml:space="preserve">60</text>
<text transform="translate(663.91,393.2) scale(1,0.97)" font-size="8.2" text-anchor="middle" xml:space="preserve">70</text>
<text transform="translate(678.54,393.2) scale(1,0.97)" font-size="8.2" text-anchor="middle" xml:space="preserve">80</text>
<text transform="translate(693.17,393.2) scale(1,0.97)" font-size="8.2" text-anchor="middle" xml:space="preserve">90</text>
<polyline points="575.8,370.4 590.5,363.4 605.2,363.4 619.9,359.3 634.3,339.7 649.3,319.8 664,316.4 678.4,311.2" fill="none" stroke="#333" stroke-width="0.95"/>
<line x1="575.8" y1="366.5" x2="575.8" y2="374.3" stroke="#333" stroke-width="0.95"/>
<line x1="574.4" y1="366.5" x2="577.2" y2="366.5" stroke="#333" stroke-width="0.95"/>
<line x1="574.4" y1="374.3" x2="577.2" y2="374.3" stroke="#333" stroke-width="0.95"/>
<rect x="574.2" y="368.8" width="3.2" height="3.2" fill="#000"/>
<line x1="590.5" y1="356.5" x2="590.5" y2="370.9" stroke="#333" stroke-width="0.95"/>
<line x1="589.1" y1="356.5" x2="591.9" y2="356.5" stroke="#333" stroke-width="0.95"/>
<line x1="589.1" y1="370.9" x2="591.9" y2="370.9" stroke="#333" stroke-width="0.95"/>
<rect x="588.9" y="361.8" width="3.2" height="3.2" fill="#000"/>
<line x1="605.2" y1="358.4" x2="605.2" y2="369.1" stroke="#333" stroke-width="0.95"/>
<line x1="603.8" y1="358.4" x2="606.6" y2="358.4" stroke="#333" stroke-width="0.95"/>
<line x1="603.8" y1="369.1" x2="606.6" y2="369.1" stroke="#333" stroke-width="0.95"/>
<rect x="603.6" y="361.8" width="3.2" height="3.2" fill="#000"/>
<line x1="619.9" y1="352.7" x2="619.9" y2="365.9" stroke="#333" stroke-width="0.95"/>
<line x1="618.5" y1="352.7" x2="621.3" y2="352.7" stroke="#333" stroke-width="0.95"/>
<line x1="618.5" y1="365.9" x2="621.3" y2="365.9" stroke="#333" stroke-width="0.95"/>
<rect x="618.3" y="357.7" width="3.2" height="3.2" fill="#000"/>
<line x1="634.3" y1="330.5" x2="634.3" y2="349.2" stroke="#333" stroke-width="0.95"/>
<line x1="632.9" y1="330.5" x2="635.7" y2="330.5" stroke="#333" stroke-width="0.95"/>
<line x1="632.9" y1="349.2" x2="635.7" y2="349.2" stroke="#333" stroke-width="0.95"/>
<rect x="632.7" y="338.1" width="3.2" height="3.2" fill="#000"/>
<line x1="649.3" y1="313.8" x2="649.3" y2="326.8" stroke="#333" stroke-width="0.95"/>
<line x1="647.9" y1="313.8" x2="650.7" y2="313.8" stroke="#333" stroke-width="0.95"/>
<line x1="647.9" y1="326.8" x2="650.7" y2="326.8" stroke="#333" stroke-width="0.95"/>
<rect x="647.7" y="318.2" width="3.2" height="3.2" fill="#000"/>
<line x1="664" y1="308.9" x2="664" y2="324.2" stroke="#333" stroke-width="0.95"/>
<line x1="662.6" y1="308.9" x2="665.4" y2="308.9" stroke="#333" stroke-width="0.95"/>
<line x1="662.6" y1="324.2" x2="665.4" y2="324.2" stroke="#333" stroke-width="0.95"/>
<rect x="662.4" y="314.8" width="3.2" height="3.2" fill="#000"/>
<line x1="678.4" y1="300.2" x2="678.4" y2="322.4" stroke="#333" stroke-width="0.95"/>
<line x1="677" y1="300.2" x2="679.8" y2="300.2" stroke="#333" stroke-width="0.95"/>
<line x1="677" y1="322.4" x2="679.8" y2="322.4" stroke="#333" stroke-width="0.95"/>
<rect x="676.8" y="309.6" width="3.2" height="3.2" fill="#000"/>
<text transform="translate(2.5,16.6) scale(1,1.03)" font-size="17.5" style="font-weight:normal" xml:space="preserve">A</text>
<text transform="translate(262.2,14.9) scale(1,1.03)" font-size="17.5" style="font-weight:normal" xml:space="preserve">B</text>
<text transform="translate(515.8,19.7) scale(1,1.03)" font-size="17.5" style="font-weight:normal" xml:space="preserve">C</text>
<text transform="translate(2.5,241.7) scale(1,1.03)" font-size="17.5" style="font-weight:normal" xml:space="preserve">D</text>
<text transform="translate(262.2,241.9) scale(1,1.03)" font-size="17.5" style="font-weight:normal" xml:space="preserve">E</text>
<text transform="translate(515.8,241.7) scale(1,1.03)" font-size="17.5" style="font-weight:normal" xml:space="preserve">F</text>
<text transform="translate(10.2,201.5) rotate(-90) scale(1,1.12)" font-size="11.4" textLength="164.5" lengthAdjust="spacingAndGlyphs" xml:space="preserve">The forward extraction efficiency</text>
<text transform="translate(24.8,175.5) rotate(-90) scale(1,1.12)" font-size="11.4" textLength="114.5" lengthAdjust="spacingAndGlyphs" xml:space="preserve">of soybean protein <tspan style="font-weight:normal">(%)</tspan></text>
<text transform="translate(270.7,173.2) rotate(-90) scale(1,1.12)" font-size="10.3" textLength="148.2" lengthAdjust="spacingAndGlyphs" xml:space="preserve">The forward extraction efficiency</text>
<text transform="translate(283.2,149.2) rotate(-90) scale(1,1.12)" font-size="10.3" textLength="103.7" lengthAdjust="spacingAndGlyphs" xml:space="preserve">of soybean protein <tspan style="font-weight:normal">(%)</tspan></text>
<text transform="translate(521.6,199.5) rotate(-90) scale(1,1.12)" font-size="11.8" textLength="170.7" lengthAdjust="spacingAndGlyphs" xml:space="preserve">The forward extraction efficiency</text>
<text transform="translate(538.8,173.2) rotate(-90) scale(1,1.12)" font-size="11.8" textLength="118.9" lengthAdjust="spacingAndGlyphs" xml:space="preserve">of soybean protein <tspan style="font-weight:normal">(%)</tspan></text>
<text transform="translate(10.4,417.6) rotate(-90) scale(1,1.05)" font-size="11.6" textLength="166.4" lengthAdjust="spacingAndGlyphs" xml:space="preserve">The forward extraction efficiency</text>
<text transform="translate(25.8,393.2) rotate(-90)" font-size="11.6" textLength="116.1" lengthAdjust="spacingAndGlyphs" xml:space="preserve">of soybean protein <tspan style="font-weight:normal">(%)</tspan></text>
<text transform="translate(270.3,389.5) rotate(-90)" font-size="8.8" textLength="127.9" lengthAdjust="spacingAndGlyphs" xml:space="preserve">The  forward extraction efficiency</text>
<text transform="translate(280.9,368.3) rotate(-90)" font-size="8.8" textLength="87.3" lengthAdjust="spacingAndGlyphs" xml:space="preserve">of soybean protein (%)</text>
<text transform="translate(525.8,393) rotate(-90) scale(1,1.12)" font-size="9.8" textLength="108.1" lengthAdjust="spacingAndGlyphs" xml:space="preserve">Back extraction efficiency</text>
<text transform="translate(538.8,385.4) rotate(-90) scale(1,1.12)" font-size="9.8" textLength="95" lengthAdjust="spacingAndGlyphs" xml:space="preserve">of soybean protein(%)</text>
<text transform="translate(64.6,191.2) scale(1,0.89)" font-size="9" textLength="148.2" lengthAdjust="spacingAndGlyphs" xml:space="preserve">pH value ( 0.05 M KCl, 180 mM AOT)</text>
<text transform="translate(548.3,192.9) scale(1,0.89)" font-size="9.4" textLength="191.3" lengthAdjust="spacingAndGlyphs" xml:space="preserve">KCl concentration ( M) (pH 7.0, 180 mM AOT)</text>
<text transform="translate(77.4,409.4) scale(1,0.89)" font-size="9" textLength="91" lengthAdjust="spacingAndGlyphs" xml:space="preserve">Added alcohol  (%, v/v)</text>
<text transform="translate(53,423.6) scale(1,0.89)" font-size="9" textLength="142.2" lengthAdjust="spacingAndGlyphs" xml:space="preserve">( 0.05 M KCl, pH 7.0, 180 mM AOT)</text>
<text transform="translate(343.8,409) scale(1,0.89)" font-size="9" textLength="98.5" lengthAdjust="spacingAndGlyphs" xml:space="preserve">AOT concentration (mM)</text>
<text transform="translate(351.3,420.8) scale(1,0.89)" font-size="9" textLength="79.9" lengthAdjust="spacingAndGlyphs" xml:space="preserve">(0.05 M KCl, pH 7.0)</text>
<text x="597.8" y="409.2" font-size="8" textLength="62.6" lengthAdjust="spacingAndGlyphs" xml:space="preserve">Contact time ( min)</text>
<text x="555.6" y="418.9" font-size="8" textLength="146.7" lengthAdjust="spacingAndGlyphs" xml:space="preserve">Forward extraction: pH = 7.0, 180 mM AOT,</text>
<text x="585.5" y="428.6" font-size="8" textLength="86.9" lengthAdjust="spacingAndGlyphs" xml:space="preserve">40 min, 0.5% (v/v) alcohol;</text>
<text x="542" y="438.7" font-size="8" textLength="174.5" lengthAdjust="spacingAndGlyphs" xml:space="preserve">backward extraction: pH 8, 20 mM phosphate buffer,</text>
<text x="616.8" y="448.9" font-size="8" textLength="22.8" lengthAdjust="spacingAndGlyphs" xml:space="preserve">1 M KCl</text>
<text transform="translate(325.2,192.4) scale(1,0.95)" font-size="9.6" xml:space="preserve">W</text>
<text transform="translate(334.7,196.4) scale(1,0.95)" font-size="9.6" xml:space="preserve">0</text>
<text transform="translate(343,192.4) scale(1,0.95)" font-size="9" textLength="134.4" lengthAdjust="spacingAndGlyphs" xml:space="preserve">[-](0.05 M KCl, 180 mM AOT)</text>
</svg>
</body></html>
